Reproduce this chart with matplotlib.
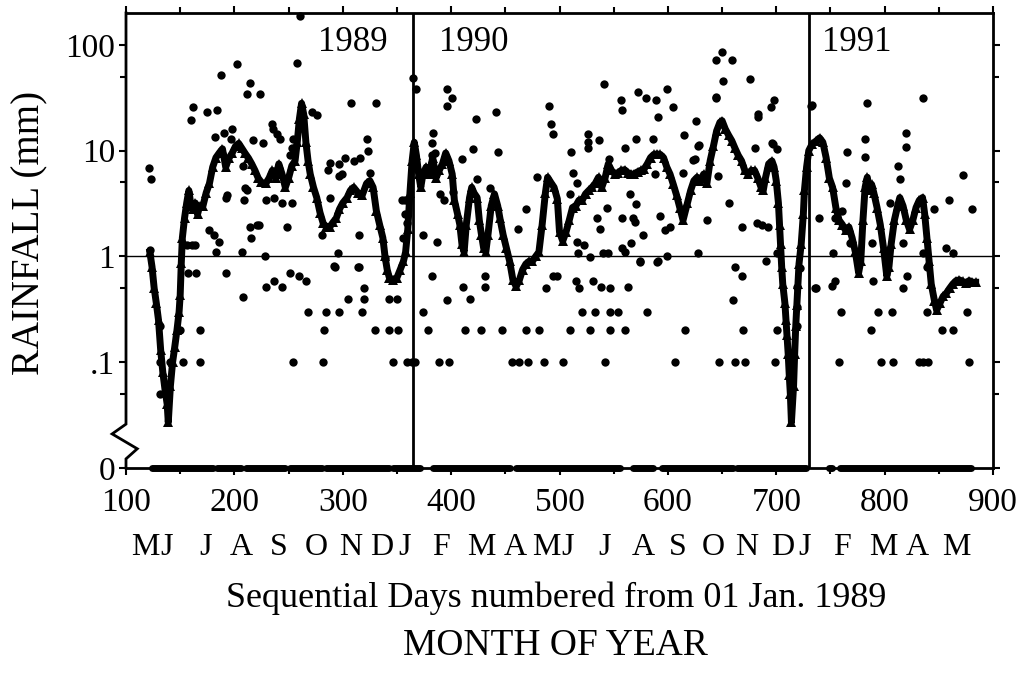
import matplotlib
matplotlib.use("Agg")
import matplotlib.pyplot as plt
import matplotlib.transforms as mtransforms
from matplotlib.ticker import NullFormatter

plt.rcParams["font.family"] = ["Liberation Serif", "DejaVu Serif"]

# Running mean of daily rainfall (mm).
mean_days = [122, 124, 126, 128, 130, 132, 134, 136, 138, 139, 141, 143, 145, 147, 149, 150,
             151, 152, 154, 156, 158, 160, 162, 164, 166, 168, 171, 174, 177, 180, 183, 186,
             189, 192, 195, 198, 201, 204, 207, 210, 213, 216, 219, 222, 225, 229, 232, 235,
             238, 241, 244, 247, 250, 253, 256, 258, 260, 262, 264, 266, 268, 270, 273, 276,
             279, 282, 285, 288, 291, 294, 297, 300, 304, 307, 310, 314, 318, 322, 325, 328,
             331, 334, 337, 339, 341, 343, 346, 350, 353, 356, 358, 360, 362, 364, 366, 368,
             370, 372, 374, 377, 380, 383, 386, 389, 392, 395, 398, 401, 403, 406, 408, 410,
             412, 414, 417, 419, 421, 424, 426, 428, 430, 432, 434, 437, 440, 443, 445, 448,
             451, 454, 457, 460, 463, 466, 469, 472, 475, 478, 481, 484, 487, 489, 492, 495,
             498, 500, 503, 506, 509, 512, 515, 518, 521, 524, 527, 530, 533, 536, 539, 542,
             545, 548, 551, 554, 557, 560, 563, 566, 569, 572, 575, 578, 581, 584, 587, 590,
             593, 596, 599, 602, 605, 608, 611, 614, 618, 621, 624, 627, 630, 633, 636, 639,
             642, 645, 648, 650, 653, 656, 659, 662, 665, 668, 671, 674, 677, 680, 683, 686,
             688, 690, 693, 696, 698, 700, 702, 703, 704, 705, 706, 708, 709, 710, 711, 712,
             713, 714, 716, 717, 718, 719, 720, 721, 723, 725, 726, 728, 730, 733, 737, 740,
             743, 746, 749, 752, 755, 758, 761, 764, 767, 770, 773, 776, 778, 780, 782, 784,
             786, 788, 790, 793, 796, 799, 802, 804, 806, 809, 812, 814, 817, 820, 823, 826,
             829, 832, 835, 837, 839, 841, 843, 846, 848, 851, 854, 857, 860, 863, 866, 869,
             872, 875, 878, 881, 884]
mean_mm = [1.1, 0.8, 0.5, 0.36, 0.25, 0.13, 0.08, 0.055, 0.04, 0.027, 0.06, 0.1, 0.14, 0.2, 0.3, 0.43,
           0.86, 1.5, 2.3, 3.2, 4.2, 3.0, 2.8, 3.2, 2.5, 3.0, 3.0, 4.0, 4.9, 7.0, 8.6, 9.5,
           10.4, 7.0, 8.5, 9.5, 11.0, 11.7, 10.5, 9.4, 8.5, 7.5, 6.5, 5.5, 5.0, 4.9, 5.5, 6.5,
           5.5, 7.5, 6.0, 4.5, 5.5, 7.2, 8.0, 12.0, 20.0, 28.0, 22.0, 12.0, 8.0, 6.0, 4.5, 3.6,
           2.6, 2.05, 1.9, 1.9, 2.1, 2.3, 2.8, 3.2, 3.6, 4.2, 4.5, 4.0, 3.8, 4.9, 5.2, 4.5,
           2.7, 2.0, 1.5, 1.0, 0.75, 0.63, 0.6, 0.63, 0.75, 0.9, 1.1, 1.8, 4.0, 8.0, 12.0, 9.0,
           6.0, 4.5, 6.0, 7.0, 6.0, 8.6, 5.5, 6.5, 7.5, 9.5, 8.0, 6.0, 3.4, 2.5, 2.0, 1.3,
           1.1, 2.0, 3.6, 4.5, 4.0, 3.6, 2.2, 1.6, 1.2, 1.1, 1.6, 3.0, 3.9, 3.0, 2.3, 1.6,
           1.2, 0.9, 0.6, 0.52, 0.6, 0.75, 0.85, 0.9, 0.9, 1.0, 1.1, 2.0, 4.0, 5.6, 5.0, 4.5,
           3.5, 1.7, 1.4, 1.7, 2.2, 2.9, 3.0, 3.4, 3.4, 3.9, 4.2, 4.5, 4.9, 5.6, 4.5, 5.5,
           7.5, 6.5, 6.0, 6.2, 6.5, 6.6, 6.2, 6.0, 6.0, 6.3, 6.5, 6.7, 7.5, 8.6, 9.2, 9.3,
           9.2, 8.6, 7.0, 6.0, 4.8, 3.8, 2.9, 2.2, 3.2, 4.2, 5.2, 5.6, 5.2, 6.0, 4.9, 8.0,
           11.0, 15.4, 18.5, 19.2, 16.0, 14.0, 12.4, 10.5, 9.0, 8.0, 6.5, 6.0, 6.5, 6.5, 5.5, 4.5,
           4.2, 5.5, 7.5, 8.0, 7.0, 5.2, 3.2, 2.0, 1.3, 0.8, 0.55, 0.36, 0.25, 0.18, 0.12, 0.075,
           0.05, 0.027, 0.06, 0.12, 0.22, 0.35, 0.55, 0.85, 1.3, 2.5, 4.2, 7.0, 10.0, 11.5, 12.4, 13.2,
           12.0, 8.6, 5.5, 4.5, 2.9, 2.2, 2.0, 1.76, 1.9, 1.5, 1.1, 0.7, 0.9, 2.2, 4.5, 5.6,
           4.2, 4.8, 4.0, 2.9, 2.0, 1.2, 0.65, 0.8, 1.3, 2.2, 3.0, 3.6, 3.0, 2.2, 1.8, 2.2,
           2.9, 3.4, 3.6, 2.5, 1.5, 0.9, 0.55, 0.38, 0.31, 0.36, 0.42, 0.45, 0.5, 0.55, 0.59, 0.6,
           0.58, 0.56, 0.59, 0.57, 0.57]

# Daily rainfall (day, mm) for the wetter days
rain_1989 = [(121, 6.8), (123, 5.4), (122, 1.15), (131, 0.22), (131, 0.05), (139, 0.05),
             (157, 0.69), (165, 0.69), (153, 1.27), (161, 1.27), (156, 1.27), (164, 1.27),
             (160, 19.6), (162, 26), (175, 23), (184, 24), (188, 52), (202, 66), (212, 34),
             (224, 34), (214, 44), (258, 68), (261, 188), (182, 13.5), (190, 14.8), (198, 16),
             (197, 13), (217, 12.7), (226, 11.8), (235, 18), (236, 16), (239, 14.5), (242, 13),
             (254, 13), (253, 10.7), (251, 9), (276, 21.5), (272, 23), (208, 7.2), (193, 3.8),
             (192, 3.6), (210, 4.4), (209, 3.4), (212, 4.2), (229, 3.45), (237, 3.6), (244, 3.2),
             (253, 3.2), (177, 1.76), (181, 1.58), (186, 1.36), (183, 1.09), (207, 1.09),
             (228, 1.0), (214, 1.9), (221, 2.0), (223, 2.0), (215, 1.5), (249, 1.9), (192, 0.69),
             (208, 0.41), (229, 0.51), (237, 0.59), (244, 0.51), (251, 0.69), (260, 0.66),
             (266, 0.59), (293, 0.79), (314, 0.79), (305, 0.4), (320, 0.5), (320, 0.4),
             (343, 0.4), (350, 0.4), (339, 0.96), (281, 1.6), (315, 1.6), (296, 1.07),
             (292, 0.82), (315, 0.8), (308, 28), (331, 28), (322, 13), (323, 10), (316, 8.6),
             (310, 8), (302, 8.6), (297, 7.5), (288, 7.6), (286, 6.5), (299, 6), (297, 5.8),
             (325, 6.2), (288, 3.6), (355, 3.4), (356, 1.5), (359, 2.05), (365, 49), (368, 38)]
rain_1990 = [(396, 38), (401, 31.6), (396, 26.7), (423, 20), (441, 23), (383, 14.8), (382, 11.7),
             (385, 9.4), (420, 10.4), (443, 9.8), (410, 8.4), (490, 26.7), (492, 18), (494, 14.5),
             (511, 9.8), (526, 14.5), (526, 12), (526, 10.5), (536, 12.7), (541, 43), (557, 30),
             (558, 24), (572, 36), (580, 31.6), (589, 30), (599, 38), (605, 26), (591, 21),
             (560, 10.7), (571, 13), (586, 13), (615, 14), (626, 19.2), (644, 31.6), (644, 72),
             (650, 86), (659, 72), (651, 46), (676, 48), (683, 21), (698, 30), (695, 25.6),
             (680, 10.7), (697, 11.5), (701, 10.4), (629, 11.4), (625, 8.4), (636, 2.2),
             (656, 3.2), (668, 1.9), (682, 2.05), (687, 2.0), (692, 1.9), (479, 5.6), (512, 6.1),
             (516, 4.9), (510, 3.9), (469, 2.8), (462, 1.8), (535, 2.3), (537, 1.83), (544, 2.9),
             (558, 2.3), (568, 2.3), (565, 3.9), (571, 3.1), (570, 2.1), (577, 1.6), (566, 1.35),
             (558, 1.2), (593, 2.4), (597, 1.76), (602, 1.9), (588, 6), (614, 6.2), (623, 8.2),
             (628, 11), (646, 5.8), (387, 1.36), (374, 1.6), (357, 3.4), (357, 2.5), (390, 3.9),
             (393, 3.4), (402, 4.1), (382, 9), (424, 5.4), (436, 4.4), (546, 8.4), (516, 1.36),
             (523, 1.27), (517, 1.07), (528, 0.98), (540, 1.07), (545, 1.07), (560, 1.09),
             (574, 0.88), (590, 0.88), (599, 1.02), (628, 1.07), (691, 0.9), (701, 1.07),
             (382, 0.66), (411, 0.51), (417, 0.4), (431, 0.66), (431, 0.51), (396, 0.39),
             (488, 0.5), (494, 0.66), (498, 0.66), (515, 0.59), (518, 0.5), (531, 0.59),
             (538, 0.51), (547, 0.5), (563, 0.51), (574, 0.9), (591, 0.9), (662, 0.79),
             (668, 0.66), (660, 0.39), (719, 0.51), (719, 0.33), (719, 0.22), (722, 0.77),
             (733, 27), (644, 32), (696, 11.7), (683, 22)]
rain_1991 = [(732, 26.6), (784, 28.3), (835, 31.6), (782, 13), (782, 8.8), (820, 14.8),
             (820, 10.9), (765, 9.8), (812, 7.2), (814, 5.4), (872, 5.9), (764, 4.9), (805, 3.2),
             (859, 3.4), (846, 2.8), (881, 2.8), (739, 2.3), (761, 2.66), (754, 2.33), (857, 1.2),
             (737, 0.5), (751, 0.53), (754, 0.59), (736, 0.5), (789, 0.59), (817, 0.5),
             (821, 0.66), (839, 0.79), (752, 1.07), (768, 1.33), (788, 1.33), (817, 1.33),
             (835, 1.07), (863, 1.07)]

# Days with the smallest measurable amounts
days_03mm = [268, 285, 297, 318, 374, 521, 533, 547, 554, 581, 760, 794, 807, 839, 876]
days_02mm = [150, 168, 283, 330, 343, 351, 379, 413, 428, 447, 469, 481, 510, 528, 547, 560,
             616, 669, 701, 787, 853, 863]
days_01mm = [131, 141, 153, 168, 254, 282, 346, 359, 364, 367, 389, 398, 456, 463, 471, 486,
             503, 542, 607, 647, 662, 671, 699, 758, 797, 808, 832, 835, 840, 878]

# Dry spells (plotted on the "0" line)
dry_start = [124, 184, 211, 251, 285, 346, 383, 460, 568, 595, 664, 749, 759]
dry_end = [180, 206, 247, 281, 343, 371, 454, 556, 586, 660, 727, 751, 880]

x_ticks = [100, 200, 300, 400, 500, 600, 700, 800, 900]
y_ticks = [0.01, 0.1, 1, 10, 100]
y_labels = ["0", ".1", "1", "10", "100"]
month_letters = ["M", "J", "J", "A", "S", "O", "N", "D", "J", "F", "M", "A", "M",
                 "J", "J", "A", "S", "O", "N", "D", "J", "F", "M", "A", "M"]
month_pos = [118, 137, 173, 206, 241, 276, 307, 336, 357, 391, 428, 459, 488,
             507, 542, 577, 609, 642, 673, 706, 726, 761, 799, 830, 866]
years = ["1989", "1990", "1991"]
year_day = [309, 421, 774]
year_breaks = [365, 730]

fig = plt.figure(figsize=(10.2, 6.75), dpi=100)
ax = fig.add_axes([126 / 1020, 1 - 468 / 675, 867 / 1020, 455 / 675])
ax.set_yscale("log")
ax.set_xlim(100, 900)
ax.set_ylim(0.01, 200)

for s in ["top", "right", "bottom"]:
    ax.spines[s].set_linewidth(2)
ax.spines["left"].set_visible(False)

# left spine with the axis break between .1 and 0
trans = mtransforms.blended_transform_factory(ax.transAxes, ax.transData)
ax.plot([0, 0, -0.016, 0.013, 0, 0], [200, 0.026, 0.021, 0.0152, 0.0122, 0.01],
        color="k", lw=2, transform=trans, clip_on=False, solid_joinstyle="miter")

ax.axhline(1, color="k", lw=1)
for d in year_breaks:
    ax.axvline(d, color="k", lw=2)

# dry days on the zero line
ax.hlines([0.01] * len(dry_start), dry_start, dry_end, color="k", lw=5,
          capstyle="round", clip_on=False, zorder=3)

rain = rain_1989 + rain_1990 + rain_1991
ax.plot([d for d, v in rain], [v for d, v in rain], "o", color="k", ms=6, mew=0,
        clip_on=False, zorder=3)
ax.plot(days_03mm, [0.3] * len(days_03mm), "o", color="k", ms=6, mew=0)
ax.plot(days_02mm, [0.2] * len(days_02mm), "o", color="k", ms=6, mew=0)
ax.plot(days_01mm, [0.1] * len(days_01mm), "o", color="k", ms=6, mew=0)

ax.plot(mean_days, mean_mm, "-^", color="k", lw=5, ms=6.5, mew=0, zorder=4,
        solid_joinstyle="round")

for y, d in zip(years, year_day):
    ax.text(d, 105, y, fontsize=25, ha="center", va="center")

ax.set_xticks(x_ticks)
ax.set_xticks(range(150, 900, 100), minor=True)
ax.set_yticks(y_ticks)
ax.set_yticklabels(y_labels)
ax.set_yticks([0.05, 0.5, 5, 50], minor=True)
ax.yaxis.set_minor_formatter(NullFormatter())
ax.tick_params(axis="both", which="both", direction="out", width=1.5, labelsize=24,
               top=True, right=True)
ax.tick_params(axis="both", which="major", length=5)
ax.tick_params(axis="both", which="minor", length=4)
ax.tick_params(axis="x", pad=9)
ax.tick_params(axis="y", pad=3)

xt = ax.get_xaxis_transform()
for m, d in zip(month_letters, month_pos):
    ax.text(d, -0.175, m, fontsize=23, ha="center", va="center", transform=xt)

fig.text(30 / 1020, 0.655, "RAINFALL (mm)", fontsize=28, rotation=90,
         ha="center", va="center")
fig.text(0.545, 0.113, "Sequential Days numbered from 01 Jan. 1989", fontsize=26,
         ha="center", va="center")
fig.text(0.545, 0.043, "MONTH OF YEAR", fontsize=27, ha="center", va="center")

fig.savefig("out.png", dpi=100)
